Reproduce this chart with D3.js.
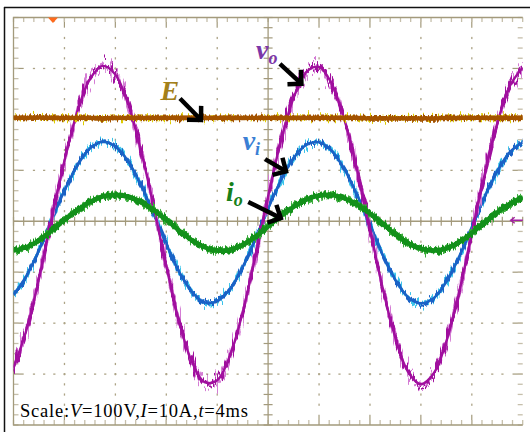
<!DOCTYPE html>
<html>
<head>
<meta charset="utf-8">
<script src="https://cdn.jsdelivr.net/npm/d3@7"></script>
<style>
  body { margin: 0; background: #fff; }
  svg { display: block; }
</style>
</head>
<body>
<div id="scope"></div>
<script>
// sample times in ms (10 divisions x 4 ms)
var timeMs = [0,1,2,3,4,5,6,7,8,9,10,11,12,13,14,15,16,17,18,19,20,
              21,22,23,24,25,26,27,28,29,30,31,32,33,34,35,36,37,38,39,40];
// output voltage v_o (V)
var voValues = [-287,-215,-113,6,118,214,279,305,288,230,140,30,-88,-196,-275,-316,-312,-264,-179,-69,49,
                157,242,293,303,270,199,100,-14,-131,-229,-296,-320,-299,-236,-140,-24,91,192,266,302];
// input voltage v_i (V)
var viValues = [-145,-108,-57,3,60,109,143,156,147,118,72,15,-44,-99,-138,-159,-157,-133,-90,-35,25,
                80,124,150,155,138,102,51,-7,-66,-115,-149,-161,-151,-119,-70,-12,47,98,136,155];
// output current i_o (A)
var ioValues = [-5.76,-5.11,-3.74,-1.83,0.29,2.19,3.78,4.83,5.2,4.84,3.79,2.2,0.32,-1.81,-3.71,-5.1,-5.76,-5.61,-4.66,-3.06,-1.03,
                1.03,2.84,4.25,5.05,5.15,4.51,3.24,1.51,-0.48,-2.58,-4.31,-5.44,-5.8,-5.34,-4.12,-2.33,-0.2,1.74,3.43,4.63];
// dc link E (V)
var eValues = [203,203,204,203,203,203,203,202,203,203,203,203,203,203,203,203,203,203,203,203,203,
               203,203,203,203,203,203,203,202,202,202,202,202,202,203,203,203,203,203,203,203];

// 1. margin convention, plot = 10 x 8 divisions
var margin = {top: 17.5, right: 7.3, bottom: 7, left: 13.5},
    width = 530 - margin.left - margin.right,
    height = 432 - margin.top - margin.bottom;

var xScale = d3.scaleLinear().domain([0, 40]).range([0, width]);
var yV = d3.scaleLinear().domain([-400, 400]).range([height, 0]);   // 100 V/div
var yI = d3.scaleLinear().domain([-40, 40]).range([height, 0]);     // 10 A/div

var svgRoot = d3.select("#scope").append("svg")
    .attr("width", 530)
    .attr("height", 432);

// black picture frame (only top + left survive the crop)
svgRoot.append("line").attr("x1", 4.5).attr("y1", 7).attr("x2", 4.5).attr("y2", 432)
    .attr("stroke", "#111").attr("stroke-width", 1.5);
svgRoot.append("line").attr("x1", 4).attr("y1", 7.5).attr("x2", 530).attr("y2", 7.5)
    .attr("stroke", "#111").attr("stroke-width", 1.5);

var defs = svgRoot.append("defs");
defs.append("clipPath").attr("id", "plotClip")
    .append("rect").attr("width", width).attr("height", height);

// scope noise - displaces each column vertically
function noiseFilter(id, seed, amount, freq) {
    var f = defs.append("filter").attr("id", id)
        .attr("filterUnits", "userSpaceOnUse")
        .attr("x", -20).attr("y", -40).attr("width", 560).attr("height", 500)
        .attr("color-interpolation-filters", "sRGB");
    f.append("feTurbulence").attr("type", "fractalNoise")
        .attr("baseFrequency", freq + " 0.04").attr("numOctaves", 2)
        .attr("seed", seed).attr("result", "turb");
    f.append("feColorMatrix").attr("in", "turb").attr("type", "matrix")
        .attr("values", "0 0 0 0 0.5  0 1 0 0 0  0 0 0 0 0  0 0 0 0 1")
        .attr("result", "disp");
    f.append("feDisplacementMap").attr("in", "SourceGraphic").attr("in2", "disp")
        .attr("scale", amount).attr("xChannelSelector", "R").attr("yChannelSelector", "G");
}
noiseFilter("nMag", 3, 30, 0.45);
noiseFilter("nMag2", 11, 44, 0.6);
noiseFilter("nBlue", 5, 14, 0.45);
noiseFilter("nBlue2", 17, 20, 0.6);
noiseFilter("nGreen", 7, 10, 0.45);
noiseFilter("nGreen2", 23, 14, 0.6);
noiseFilter("nE", 9, 8, 0.5);
noiseFilter("nYel", 29, 16, 0.6);

var svg = svgRoot.append("g")
    .attr("transform", "translate(" + margin.left + "," + margin.top + ")");

// 2. graticule
var gridCol = "#a39a7c", tickCol = "#c6bfab", dotCol = "#aca386";
var minorX = d3.range(0, 51).map(function(i) { return i * 0.8; });
var minorY = d3.range(0, 41).map(function(i) { return -400 + i * 20; });
var majorX = [4, 8, 12, 16, 24, 28, 32, 36];
var majorY = [-300, -200, -100, 100, 200, 300];
var grid = svg.append("g").attr("class", "grid");

// dotted major lines
majorX.forEach(function(t) {
    grid.selectAll(null).data(minorY.filter(function(v) { return Math.abs(v) < 380; }))
        .enter().append("rect")
        .attr("x", xScale(t) - 0.6).attr("y", function(v) { return yV(v) - 1; })
        .attr("width", 1.3).attr("height", 2.2).attr("fill", dotCol);
    grid.append("line").attr("x1", xScale(t)).attr("x2", xScale(t))
        .attr("y1", 0).attr("y2", yV(380)).attr("stroke", gridCol).attr("stroke-width", 1.2);
    grid.append("line").attr("x1", xScale(t)).attr("x2", xScale(t))
        .attr("y1", yV(-380)).attr("y2", height).attr("stroke", gridCol).attr("stroke-width", 1.2);
});
majorY.forEach(function(v) {
    grid.selectAll(null).data(minorX.filter(function(t) { return t > 0.9 && t < 39.1; }))
        .enter().append("rect")
        .attr("x", function(t) { return xScale(t) - 1; }).attr("y", yV(v) - 0.6)
        .attr("width", 2.2).attr("height", 1.3).attr("fill", dotCol);
    grid.append("line").attr("y1", yV(v)).attr("y2", yV(v))
        .attr("x1", 0).attr("x2", xScale(0.8)).attr("stroke", gridCol).attr("stroke-width", 1.2);
    grid.append("line").attr("y1", yV(v)).attr("y2", yV(v))
        .attr("x1", xScale(39.2)).attr("x2", width).attr("stroke", gridCol).attr("stroke-width", 1.2);
});

// border ticks
grid.selectAll(null).data(minorX).enter().append("line")
    .attr("x1", xScale).attr("x2", xScale).attr("y1", 0).attr("y2", 4.5)
    .attr("stroke", tickCol).attr("stroke-width", 1.3);
grid.selectAll(null).data(minorX).enter().append("line")
    .attr("x1", xScale).attr("x2", xScale).attr("y1", height - 5).attr("y2", height)
    .attr("stroke", tickCol).attr("stroke-width", 1.3);
grid.selectAll(null).data(minorY).enter().append("line")
    .attr("y1", yV).attr("y2", yV).attr("x1", 0).attr("x2", 5)
    .attr("stroke", tickCol).attr("stroke-width", 1.3);
grid.selectAll(null).data(minorY).enter().append("line")
    .attr("y1", yV).attr("y2", yV).attr("x1", width - 5).attr("x2", width)
    .attr("stroke", tickCol).attr("stroke-width", 1.3);

// border (no right edge in the shot)
grid.append("path")
    .attr("d", "M" + width + ",0H0V" + height + "H" + width)
    .attr("fill", "none").attr("stroke", gridCol).attr("stroke-width", 1.3);

// center axes with ticks
grid.append("line").attr("x1", 0).attr("x2", width).attr("y1", yV(0)).attr("y2", yV(0))
    .attr("stroke", gridCol).attr("stroke-width", 1.3);
grid.append("line").attr("x1", xScale(20)).attr("x2", xScale(20)).attr("y1", 0).attr("y2", height)
    .attr("stroke", gridCol).attr("stroke-width", 1.3);
grid.selectAll(null).data(minorX).enter().append("line")
    .attr("x1", xScale).attr("x2", xScale).attr("y1", yV(0) - 4.5).attr("y2", yV(0) + 4.5)
    .attr("stroke", gridCol).attr("stroke-width", 1.2);
grid.selectAll(null).data(minorY).enter().append("line")
    .attr("y1", yV).attr("y2", yV).attr("x1", xScale(20) - 4.5).attr("x2", xScale(20) + 4.5)
    .attr("stroke", gridCol).attr("stroke-width", 1.2);

// 3. traces
var traces = svg.append("g").attr("clip-path", "url(#plotClip)");

function drawTrace(values, yScale, color, w, filt) {
    var line = d3.line()
        .x(function(d, i) { return xScale(timeMs[i]); })
        .y(function(d) { return yScale(d); })
        .curve(d3.curveCatmullRom);
    var p = traces.append("path")
        .datum(values)
        .attr("fill", "none")
        .attr("stroke", color)
        .attr("stroke-width", w)
        .attr("stroke-linejoin", "round")
        .attr("d", line);
    if (filt) p.attr("filter", "url(#" + filt + ")");
}

// each channel: light noisy fringe, noisy body, clean core
drawTrace(viValues, yV, "#3cc4ea", 3.2, "nBlue2");
drawTrace(viValues, yV, "#1a62c6", 3, "nBlue");
drawTrace(viValues, yV, "#1a62c6", 2.6, null);
drawTrace(voValues, yV, "#d47cd4", 3, "nMag2");
drawTrace(voValues, yV, "#a00f9e", 3, "nMag");
drawTrace(voValues, yV, "#a00f9e", 2.4, null);
drawTrace(ioValues, yI, "#3aac3a", 5, "nGreen2");
drawTrace(ioValues, yI, "#12901a", 5, "nGreen");
drawTrace(ioValues, yI, "#12901a", 4.5, null);
drawTrace(eValues, yV, "#dccc00", 3, "nYel");
drawTrace(eValues, yV, "#a35200", 4.8, "nE");
drawTrace(eValues, yV, "#a35200", 4.2, null);

// channel markers: trigger triangle on top, ch ref arrow on the right
var trigT = 3.1;
svg.append("path")
    .attr("d", "M" + (xScale(trigT) - 5) + ",0L" + (xScale(trigT) + 5) + ",0L" + xScale(trigT) + ",5.5Z")
    .attr("fill", "#ff6a1c");
svg.append("path")
    .attr("d", "M" + (width - 12) + "," + (yV(0) - 1) + "H" + width +
               "M" + (width - 8) + "," + (yV(0) - 4) + "L" + (width - 12) + "," + (yV(0) - 1) +
               "L" + (width - 8) + "," + (yV(0) + 2))
    .attr("fill", "none").attr("stroke", "#a21fa2").attr("stroke-width", 1.5);

// 4. labels + arrows (anchored in ms / V)
var labels = [
    {main: "v", sub: "o", t: 19.05, v: 318, color: "#7c37a8"},
    {main: "E", sub: "",  t: 11.55, v: 239, color: "#a3801a"},
    {main: "v", sub: "i", t: 18.0,  v: 140, color: "#3b7fd4"},
    {main: "i", sub: "o", t: 16.7,  v: 39,  color: "#17801a"}
];
var arrows = [
    {t1: 20.93, v1: 309, t2: 22.62, v2: 270},
    {t1: 13.08, v1: 241, t2: 14.73, v2: 199},
    {t1: 19.76, v1: 122, t2: 21.41, v2: 98},
    {t1: 18.44, v1: 38,  t2: 21.0,  v2: 6}
];

labels.forEach(function(d) {
    var txt = svg.append("text")
        .attr("x", xScale(d.t)).attr("y", yV(d.v))
        .attr("font-family", "'Liberation Serif', 'Times New Roman', serif")
        .attr("font-style", "italic").attr("font-weight", "bold")
        .attr("font-size", 28).attr("fill", d.color);
    txt.append("tspan").text(d.main);
    if (d.sub) txt.append("tspan").attr("font-size", 18).attr("dy", 5).text(d.sub);
});

arrows.forEach(function(d) {
    var x1 = xScale(d.t1), y1 = yV(d.v1), x2 = xScale(d.t2), y2 = yV(d.v2);
    var a = Math.atan2(y2 - y1, x2 - x1), h = 14;
    var g = svg.append("g").attr("stroke", "#000").attr("stroke-width", 4.5).attr("fill", "none");
    g.append("line").attr("x1", x1).attr("y1", y1).attr("x2", x2 - 2 * Math.cos(a)).attr("y2", y2 - 2 * Math.sin(a));
    g.append("path")
        .attr("stroke-linejoin", "miter")
        .attr("d", "M" + (x2 - h * Math.cos(a - Math.PI / 4)) + "," + (y2 - h * Math.sin(a - Math.PI / 4)) +
                   "L" + x2 + "," + y2 +
                   "L" + (x2 - h * Math.cos(a + Math.PI / 4)) + "," + (y2 - h * Math.sin(a + Math.PI / 4)));
});

// 5. scale note
var note = svgRoot.append("text")
    .attr("x", 20).attr("y", 416.5)
    .attr("font-family", "'Liberation Serif', 'Times New Roman', serif")
    .attr("font-size", 18.5).attr("fill", "#000")
    .attr("textLength", 228).attr("lengthAdjust", "spacing");
note.append("tspan").text("Scale:");
note.append("tspan").attr("font-style", "italic").text("V");
note.append("tspan").text("=100V,");
note.append("tspan").attr("font-style", "italic").text("I");
note.append("tspan").text("=10A,");
note.append("tspan").attr("font-style", "italic").text("t");
note.append("tspan").text("=4ms");
</script>
</body>
</html>
